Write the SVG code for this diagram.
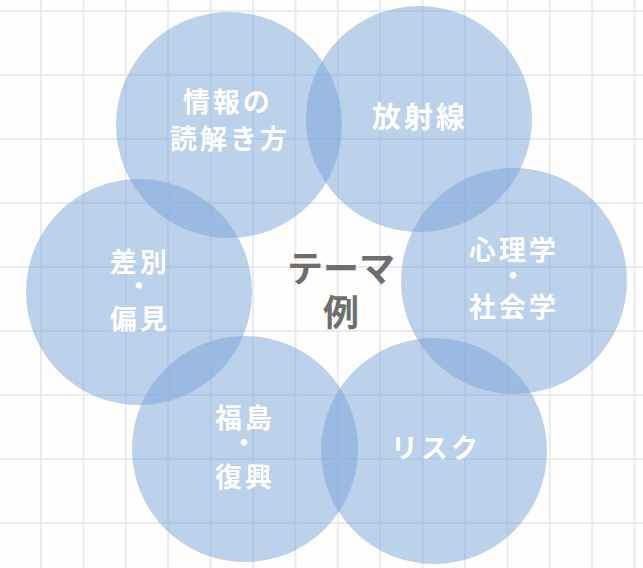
<svg xmlns="http://www.w3.org/2000/svg" width="643" height="568" viewBox="0 0 643 568">
<defs>
<style>
.grid line{stroke:#e6ecf3;stroke-width:2}
.c{fill:#7aa3d8;fill-opacity:0.5}
.lbl{font-family:"Noto Sans CJK JP","Noto Sans",sans-serif;font-size:27px;font-weight:bold;fill:#ffffff;text-anchor:middle;letter-spacing:3px;filter:url(#glow)}
.dot{font-family:"Noto Sans CJK JP","Noto Sans",sans-serif;font-size:26px;font-weight:bold;fill:#ffffff;text-anchor:middle;filter:url(#glow)}
.ctr{font-family:"Noto Sans CJK JP","Noto Sans",sans-serif;font-size:36px;font-weight:bold;fill:#6e6e6e;text-anchor:middle}
</style>
<filter id="glow" x="-20%" y="-40%" width="140%" height="180%">
<feGaussianBlur in="SourceAlpha" stdDeviation="1.6"/>
<feColorMatrix type="matrix" values="0 0 0 0 0.5  0 0 0 0 0.64  0 0 0 0 0.87  0 0 0 1.4 0"/>
<feMerge><feMergeNode/><feMergeNode in="SourceGraphic"/></feMerge>
</filter>
</defs>
<rect width="643" height="568" fill="#fffefd"/>
<g class="grid">
<line x1="41" y1="0" x2="41" y2="568"/>
<line x1="83.4" y1="0" x2="83.4" y2="568"/>
<line x1="125.8" y1="0" x2="125.8" y2="568"/>
<line x1="168.2" y1="0" x2="168.2" y2="568"/>
<line x1="210.6" y1="0" x2="210.6" y2="568"/>
<line x1="253" y1="0" x2="253" y2="568"/>
<line x1="295.4" y1="0" x2="295.4" y2="568"/>
<line x1="337.8" y1="0" x2="337.8" y2="568"/>
<line x1="380.2" y1="0" x2="380.2" y2="568"/>
<line x1="422.6" y1="0" x2="422.6" y2="568"/>
<line x1="465" y1="0" x2="465" y2="568"/>
<line x1="507.4" y1="0" x2="507.4" y2="568"/>
<line x1="549.8" y1="0" x2="549.8" y2="568"/>
<line x1="592.2" y1="0" x2="592.2" y2="568"/>
<line x1="634.6" y1="0" x2="634.6" y2="568"/>
<line x1="0" y1="11" x2="643" y2="11"/>
<line x1="0" y1="75" x2="643" y2="75"/>
<line x1="0" y1="139" x2="643" y2="139"/>
<line x1="0" y1="203" x2="643" y2="203"/>
<line x1="0" y1="267" x2="643" y2="267"/>
<line x1="0" y1="331" x2="643" y2="331"/>
<line x1="0" y1="395" x2="643" y2="395"/>
<line x1="0" y1="459" x2="643" y2="459"/>
<line x1="0" y1="523" x2="643" y2="523"/>
</g>
<g id="connectors"></g>
<g id="node-joho"><circle class="c" cx="229" cy="125" r="113"/></g>
<g id="node-hoshasen"><circle class="c" cx="419" cy="119" r="113"/></g>
<g id="node-shinri"><circle class="c" cx="514" cy="281" r="113"/></g>
<g id="node-risk"><circle class="c" cx="434" cy="451" r="113"/></g>
<g id="node-fukushima"><circle class="c" cx="245" cy="449" r="113"/></g>
<g id="node-sabetsu"><circle class="c" cx="139" cy="292" r="113"/></g>
<g id="labels">
<text class="lbl" x="228" y="112">情報の</text>
<text class="lbl" x="230" y="149">読解き方</text>
<text class="lbl" x="420" y="128" style="font-size:29px">放射線</text>
<text class="lbl" x="514" y="260">心理学</text>
<text class="dot" x="513" y="285">・</text>
<text class="lbl" x="514" y="317">社会学</text>
<text class="lbl" x="436" y="458">リスク</text>
<text class="lbl" x="245" y="428">福島</text>
<text class="dot" x="244" y="452">・</text>
<text class="lbl" x="245" y="487">復興</text>
<text class="lbl" x="140" y="272">差別</text>
<text class="dot" x="139" y="295">・</text>
<text class="lbl" x="140" y="329">偏見</text>
</g>
<g id="node-center">
<text class="ctr" x="341" y="282">テーマ</text>
<text class="ctr" x="341" y="326">例</text>
</g>
</svg>
